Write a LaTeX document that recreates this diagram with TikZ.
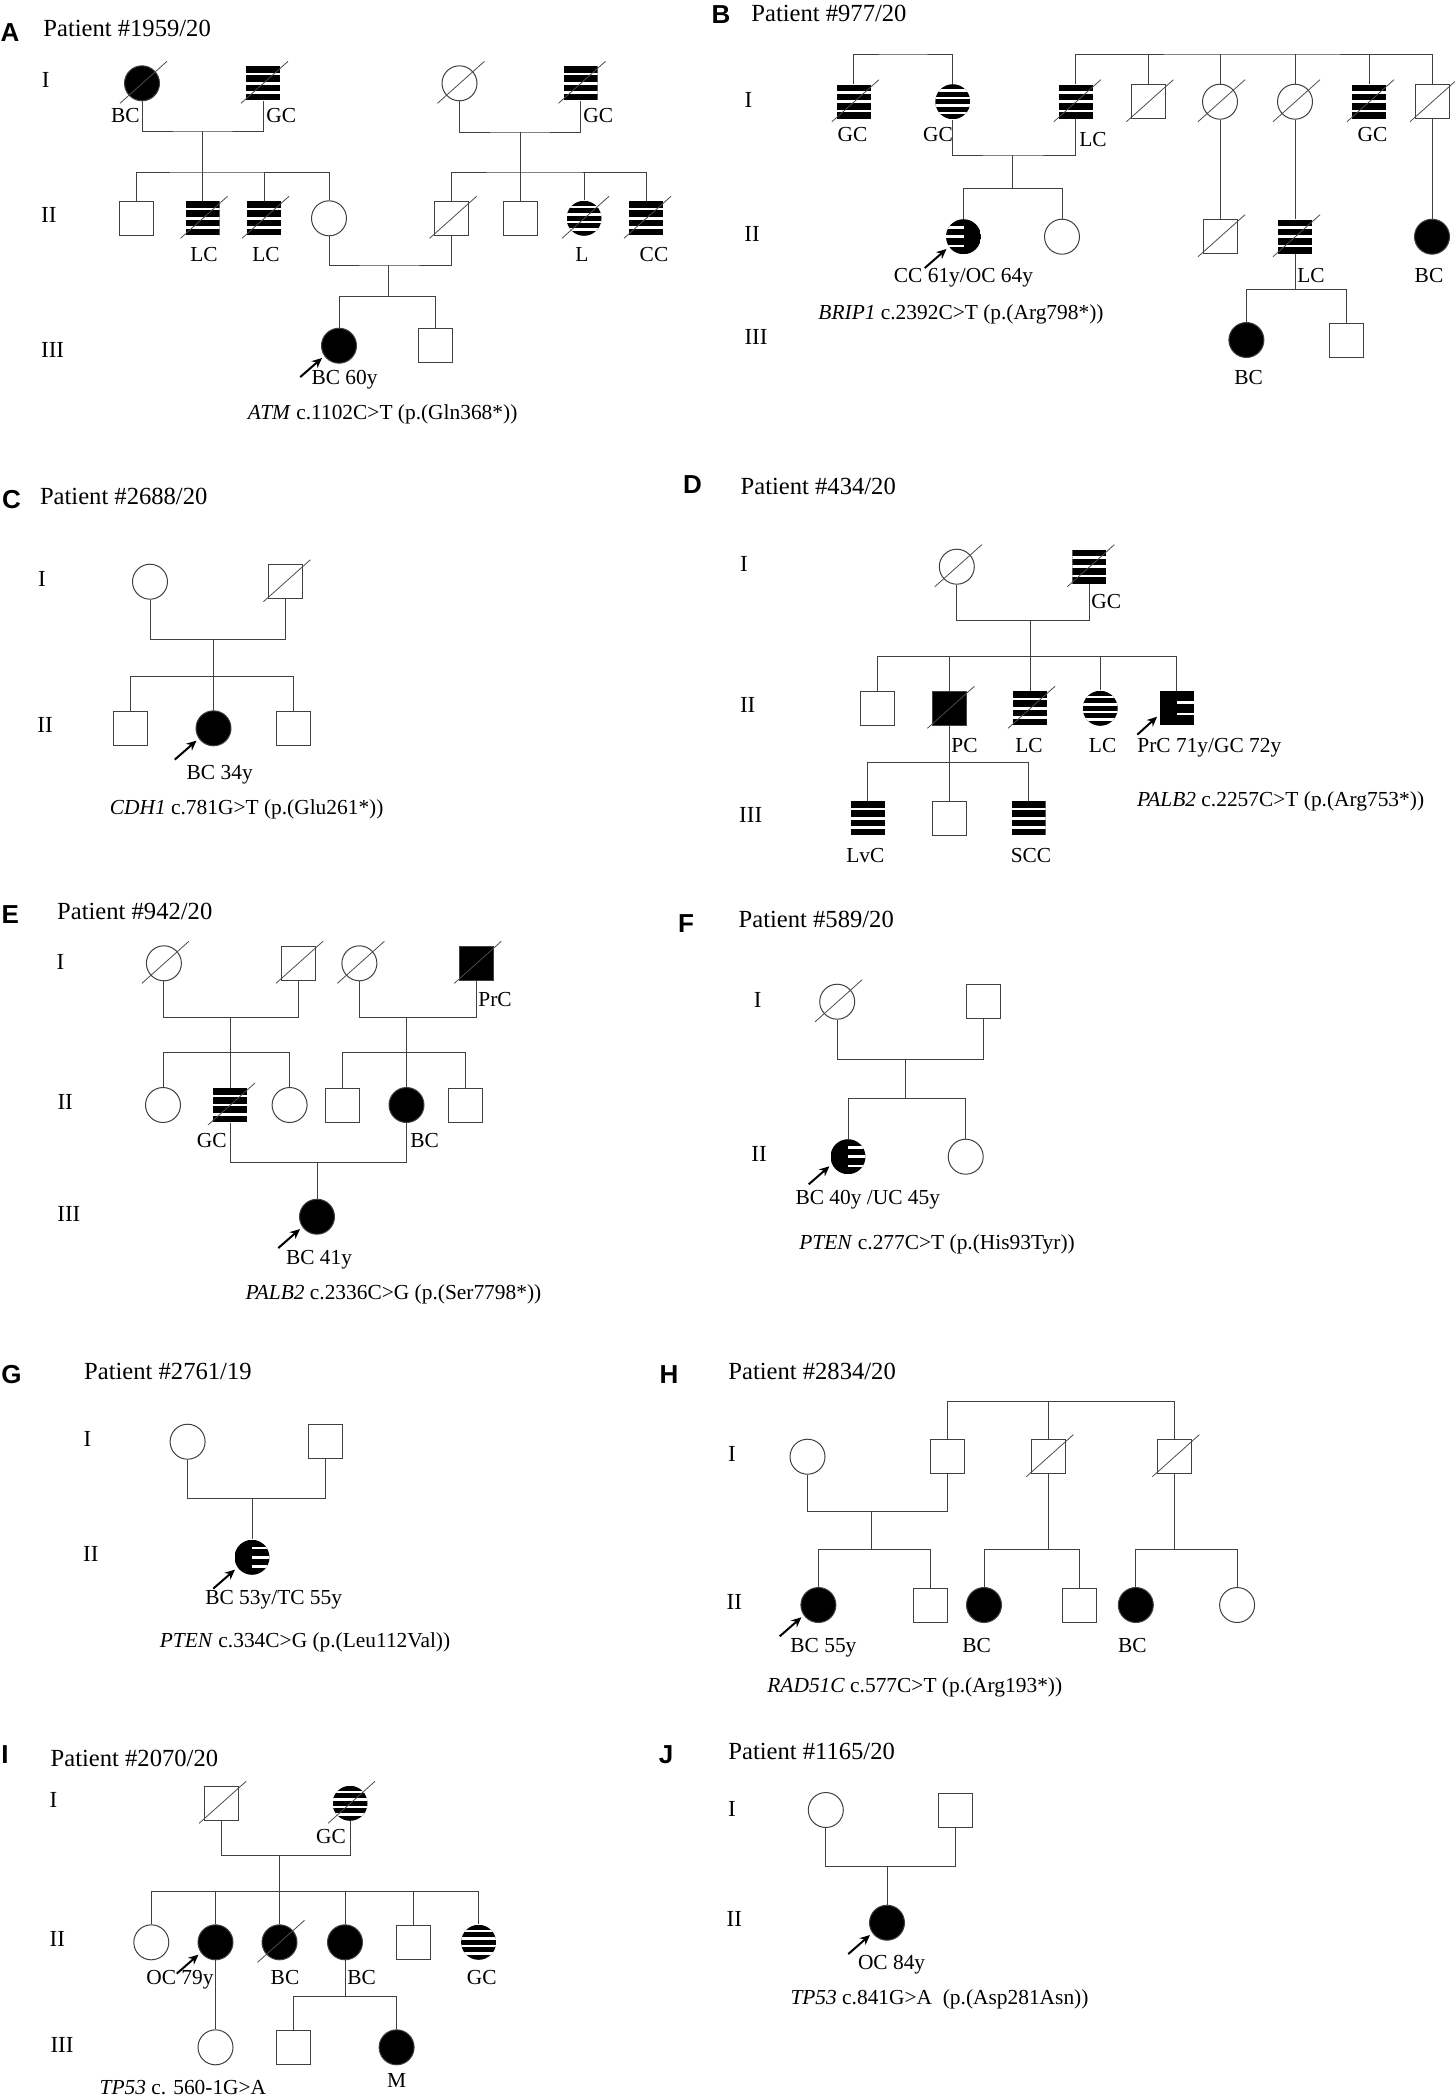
\documentclass[tikz,border=0pt]{standalone}
\usepackage{fontspec}
\setmainfont{Liberation Serif}
\setsansfont{Liberation Sans}
\usepackage{tikz}
\usetikzlibrary{shapes,arrows.meta,calc}

\begin{document}
\begin{tikzpicture}[
	x=0.5pt, y=-0.5pt,
	male/.style={
		rectangle,
		draw=black!75,
		line width=0.5pt,
		minimum size=17pt,
		inner sep=0pt},
	female/.style={
		circle,
		draw=black!75,
		line width=0.5pt,
		minimum size=17.5pt,
		inner sep=0pt},
	aff/.style={fill=black},
	bars/.style={
		draw=none,
		path picture={
			\fill[black] (path picture bounding box.south west) rectangle (path picture bounding box.north east);
			\foreach \o in {#1}
				\fill[white] ([yshift={(\o-0.65)*1pt}]path picture bounding box.west) rectangle ([yshift={(\o+0.65)*1pt}]path picture bounding box.east);}},
	barsR/.style={
		draw=none,
		path picture={
			\fill[black] (path picture bounding box.south west) rectangle (path picture bounding box.north east);
			\foreach \o in {#1}
				\fill[white] ([yshift={(\o-0.65)*1pt}]path picture bounding box.center) rectangle ([yshift={(\o+0.65)*1pt}]path picture bounding box.east);}},
	barsL/.style={
		draw=none,
		path picture={
			\fill[black] (path picture bounding box.south west) rectangle (path picture bounding box.north east);
			\foreach \o in {#1}
				\fill[white] ([yshift={(\o-0.65)*1pt}]path picture bounding box.west) rectangle ([yshift={(\o+0.65)*1pt}]path picture bounding box.center);}},
	sqbars/.style={bars={4.6,0,-4.6}},
	cibars/.style={bars={5.6,1.9,-1.9,-5.6}},
	deadline/.style={draw=black!70, line width=0.4pt},
	dead/.style={
		append after command={
			([shift={(-11pt,-10pt)}]\tikzlastnode.center) edge[deadline] ([shift={(12.5pt,11pt)}]\tikzlastnode.center)}},
	line/.style={
		draw=black!75,
		line width=0.5pt},
	pointer/.style={
		draw=black,
		line width=1pt,
		-{Stealth[length=5pt,width=4.5pt]},
		shorten >=1.5pt},
	lbl/.style={
		font=\fontsize{10.7}{12}\selectfont,
		inner sep=0pt,
		anchor=mid},
	title/.style={
		font=\fontsize{12.3}{14}\selectfont,
		inner sep=0pt,
		anchor=mid west},
	gen/.style={
		font=\fontsize{11.5}{13}\selectfont,
		inner sep=0pt,
		anchor=mid},
	panel/.style={
		font=\sffamily\bfseries\fontsize{13}{15}\selectfont,
		inner sep=0pt}]

	\useasboundingbox (0,0) rectangle (1455,2100);

	% Panel A
	\node [panel] (pA) at (10,33) {A};
	\node [title] (tA) at (43,32) {Patient \#1959/20};
	\node [gen] (gA1) at (45.6,83.3) {I};
	\node [gen] (gA2) at (48.9,218.3) {II};
	\node [gen] (gA3) at (52.6,353.3) {III};
	\node [female, aff, dead] (a1) at (142,83.3) {};
	\node [male, sqbars, dead] (a2) at (263,83.3) {};
	\node [female, dead] (a3) at (459.5,83.3) {};
	\node [male, sqbars, dead] (a4) at (580.5,83.3) {};
	\node [male] (a5) at (136.4,218.3) {};
	\node [male, sqbars, dead] (a6) at (202.5,218.3) {};
	\node [male, sqbars, dead] (a7) at (264,218.3) {};
	\node [female] (a8) at (329,218.3) {};
	\node [male, dead] (a9) at (451.6,218.3) {};
	\node [male] (a10) at (520,218.3) {};
	\node [female, cibars, dead] (a11) at (584,218.3) {};
	\node [male, sqbars, dead] (a12) at (646,218.3) {};
	\node [female, aff] (a13) at (339,345.7) {};
	\node [male] (a14) at (435.3,345.7) {};
	\coordinate (am1) at (202.5,131);
	\coordinate (as1) at (202.5,172);
	\coordinate (am2) at (520,132);
	\coordinate (as2) at (520,172);
	\coordinate (am3) at (388,265);
	\coordinate (as3) at (388,296.7);
	\coordinate (a13p) at ([shift={(-12pt,-10.5pt)}]a13.215);
	\path [line] (a1.south) |- (am1) -| (a2.south);
	\path [line] (am1) -- (as1);
	\path [line] (a5.north) |- (as1) -| (a8.north);
	\path [line] (a6.north) -- (a6.north |- as1);
	\path [line] (a7.north) -- (a7.north |- as1);
	\path [line] (a3.south) |- (am2) -| (a4.south);
	\path [line] (am2) -- (as2);
	\path [line] (a9.north) |- (as2) -| (a12.north);
	\path [line] (a10.north) -- (a10.north |- as2);
	\path [line] (a11.north) -- (a11.north |- as2);
	\path [line] (a8.south) |- (am3) -| (a9.south);
	\path [line] (am3) -- (as3);
	\path [line] (a13.north) |- (as3) -| (a14.north);
	\path [pointer] (a13p) -- (a13.215);
	\node [lbl, anchor=mid east] (a1l) at (140,118.3) {BC};
	\node [lbl, anchor=mid west] (a2l) at (266,118.3) {GC};
	\node [lbl, anchor=mid west] (a4l) at (583,118.3) {GC};
	\node [lbl] (a6l) at (204,256.7) {LC};
	\node [lbl] (a7l) at (266,256.7) {LC};
	\node [lbl] (a11l) at (582,256.7) {L};
	\node [lbl] (a12l) at (654,256.7) {CC};
	\node [lbl] (a13l) at (344.5,380) {BC 60y};
	\node [lbl] (mA) at (382.7,415) {\textit{ATM} c.1102C>T (p.(Gln368*))};

	% Panel B
	\node [panel] (pB) at (721,15) {B};
	\node [title] (tB) at (751,16.7) {Patient \#977/20};
	\node [gen] (gB1) at (748.5,103.3) {I};
	\node [gen] (gB2) at (752,236.7) {II};
	\node [gen] (gB3) at (756,340) {III};
	\node [male, sqbars, dead] (b1) at (853.9,101.7) {};
	\node [female, cibars] (b2) at (952.8,101.7) {};
	\node [male, sqbars, dead] (b3) at (1075.8,101.7) {};
	\node [male, dead] (b4) at (1148.4,101.7) {};
	\node [female, dead] (b5) at (1220,101.7) {};
	\node [female, dead] (b6) at (1295,101.7) {};
	\node [male, sqbars, dead] (b7) at (1369,101.7) {};
	\node [male, dead] (b8) at (1432,101.7) {};
	\node [female, barsL={4.6,0,-4.6}] (b9) at (963.5,236.7) {};
	\node [female] (b10) at (1062,236.7) {};
	\node [male, dead] (b11) at (1220,236.7) {};
	\node [male, sqbars, dead] (b12) at (1295,236.7) {};
	\node [female, aff] (b13) at (1432,236.7) {};
	\node [female, aff] (b14) at (1246.4,340) {};
	\node [male] (b15) at (1346,340) {};
	\coordinate (bt1) at (903,54);
	\coordinate (bt2) at (1250,54);
	\coordinate (bm1) at (1012,155);
	\coordinate (bs1) at (1012,188.3);
	\coordinate (bs2) at (1295,289.3);
	\coordinate (b9p) at ([shift={(-12pt,-10.5pt)}]b9.215);
	\path [line] (b1.north) |- (bt1) -| (b2.north);
	\path [line] (b3.north) |- (bt2) -| (b8.north);
	\path [line] (b4.north) -- (b4.north |- bt2);
	\path [line] (b5.north) -- (b5.north |- bt2);
	\path [line] (b6.north) -- (b6.north |- bt2);
	\path [line] (b7.north) -- (b7.north |- bt2);
	\path [line] (b2.south) |- (bm1) -| (b3.south);
	\path [line] (bm1) -- (bs1);
	\path [line] (b9.north) |- (bs1) -| (b10.north);
	\path [line] (b5.south) -- (b11.north);
	\path [line] (b6.south) -- (b12.north);
	\path [line] (b8.south) -- (b13.north);
	\path [line] (b12.south) -- (bs2);
	\path [line] (b14.north) |- (bs2) -| (b15.north);
	\path [pointer] (b9p) -- (b9.215);
	\node [lbl] (b1l) at (852.5,136.7) {GC};
	\node [lbl] (b2l) at (938,136.7) {GC};
	\node [lbl, anchor=mid west] (b3l) at (1079,141.7) {LC};
	\node [lbl] (b7l) at (1372.6,136.7) {GC};
	\node [lbl] (b9l) at (963.5,278.3) {CC 61y/OC 64y};
	\node [lbl, anchor=mid west] (b12l) at (1297,278.3) {LC};
	\node [lbl] (b13l) at (1429,278.3) {BC};
	\node [lbl] (b14l) at (1248.7,380) {BC};
	\node [lbl] (mB) at (961,315) {\textit{BRIP1} c.2392C>T (p.(Arg798*))};

	% Panel C
	\node [panel] (pC) at (11.6,500) {C};
	\node [title] (tC) at (39.6,500) {Patient \#2688/20};
	\node [gen] (gC1) at (42,581.7) {I};
	\node [gen] (gC2) at (45,728.3) {II};
	\node [female] (c1) at (150,581.7) {};
	\node [male, dead] (c2) at (285.4,581.7) {};
	\node [male] (c3) at (130.4,728.3) {};
	\node [female, aff] (c4) at (213.5,728.3) {};
	\node [male] (c5) at (293.3,728.3) {};
	\coordinate (cm1) at (213.5,639);
	\coordinate (cs1) at (213.5,676);
	\coordinate (c4p) at ([shift={(-12pt,-10.5pt)}]c4.215);
	\path [line] (c1.south) |- (cm1) -| (c2.south);
	\path [line] (cm1) -- (cs1);
	\path [line] (c3.north) |- (cs1) -| (c5.north);
	\path [line] (c4.north) -- (cs1);
	\path [pointer] (c4p) -- (c4.215);
	\node [lbl] (c4l) at (219.7,775) {BC 34y};
	\node [lbl] (mC) at (246.7,810) {\textit{CDH1} c.781G>T (p.(Glu261*))};

	% Panel D
	\node [panel] (pD) at (692.4,485) {D};
	\node [title] (tD) at (740.3,490) {Patient \#434/20};
	\node [gen] (gD1) at (744,566.7) {I};
	\node [gen] (gD2) at (747.7,708.3) {II};
	\node [gen] (gD3) at (750.7,818.3) {III};
	\node [female, dead] (d1) at (956.8,566.7) {};
	\node [male, sqbars, dead] (d2) at (1089.3,566.7) {};
	\node [male] (d3) at (877.7,708.3) {};
	\node [male, aff, dead] (d4) at (949.4,708.3) {};
	\node [male, sqbars, dead] (d5) at (1030,708.3) {};
	\node [female, cibars] (d6) at (1100.2,708.3) {};
	\node [male, barsR={2.9,-2.9}] (d7) at (1176.8,708.3) {};
	\node [male, sqbars] (d8) at (867.8,818.3) {};
	\node [male] (d9) at (949.4,818.3) {};
	\node [male, sqbars] (d10) at (1028.5,818.3) {};
	\coordinate (dm1) at (1030,620);
	\coordinate (ds1) at (1030,656.7);
	\coordinate (ds2) at (949.4,762.7);
	\coordinate (d7p) at ([shift={(-11pt,-10pt)}]d7.200);
	\path [line] (d1.south) |- (dm1) -| (d2.south);
	\path [line] (dm1) -- (ds1);
	\path [line] (d3.north) |- (ds1) -| (d7.north);
	\path [line] (d4.north) -- (d4.north |- ds1);
	\path [line] (d5.north) -- (ds1);
	\path [line] (d6.north) -- (d6.north |- ds1);
	\path [line] (d4.south) -- (d9.north);
	\path [line] (d8.north) |- (ds2) -| (d10.north);
	\path [pointer] (d7p) -- (d7.200);
	\node [lbl, anchor=mid west] (d2l) at (1091,604) {GC};
	\node [lbl, anchor=mid west] (d4l) at (951,748.3) {PC};
	\node [lbl] (d5l) at (1029,748.3) {LC};
	\node [lbl] (d6l) at (1102.6,748.3) {LC};
	\node [lbl, anchor=mid west] (d7l) at (1137,748.3) {PrC 71y/GC 72y};
	\node [lbl] (d8l) at (865.4,858.3) {LvC};
	\node [lbl] (d10l) at (1031,858.3) {SCC};
	\node [lbl] (mD) at (1280.6,801.7) {\textit{PALB2} c.2257C>T (p.(Arg753*))};

	% Panel E
	\node [panel] (pE) at (10.2,915) {E};
	\node [title] (tE) at (56.8,915) {Patient \#942/20};
	\node [gen] (gE1) at (60.5,965) {I};
	\node [gen] (gE2) at (65.2,1105) {II};
	\node [gen] (gE3) at (68.9,1216.7) {III};
	\node [female, dead] (e1) at (163.9,963.3) {};
	\node [male, dead] (e2) at (298,963.3) {};
	\node [female, dead] (e3) at (359.4,963.3) {};
	\node [male, aff, dead] (e4) at (476.3,963.3) {};
	\node [female] (e5) at (163,1105) {};
	\node [male, sqbars, dead] (e6) at (230,1105) {};
	\node [female] (e7) at (289.6,1105) {};
	\node [male] (e8) at (342.2,1105) {};
	\node [female, aff] (e9) at (406.5,1105) {};
	\node [male] (e10) at (465.5,1105) {};
	\node [female, aff] (e11) at (317,1216.7) {};
	\coordinate (em1) at (230,1017.3);
	\coordinate (es1) at (230,1052.7);
	\coordinate (em2) at (406.5,1017.3);
	\coordinate (es2) at (406.5,1052.7);
	\coordinate (em3) at (317,1162.7);
	\coordinate (e11p) at ([shift={(-12pt,-10.5pt)}]e11.215);
	\path [line] (e1.south) |- (em1) -| (e2.south);
	\path [line] (em1) -- (es1);
	\path [line] (e5.north) |- (es1) -| (e7.north);
	\path [line] (e6.north) -- (es1);
	\path [line] (e3.south) |- (em2) -| (e4.south);
	\path [line] (em2) -- (es2);
	\path [line] (e8.north) |- (es2) -| (e10.north);
	\path [line] (e9.north) -- (es2);
	\path [line] (e6.south) |- (em3) -| (e9.south);
	\path [line] (em3) -- (e11.north);
	\path [pointer] (e11p) -- (e11.215);
	\node [lbl, anchor=mid west] (e4l) at (478,1001.7) {PrC};
	\node [lbl, anchor=mid east] (e6l) at (227,1143.3) {GC};
	\node [lbl, anchor=mid west] (e9l) at (410,1143.3) {BC};
	\node [lbl] (e11l) at (319,1260) {BC 41y};
	\node [lbl] (mE) at (393.4,1295) {\textit{PALB2} c.2336C>G (p.(Ser7798*))};

	% Panel F
	\node [panel] (pF) at (686,923.3) {F};
	\node [title] (tF) at (738.3,923.3) {Patient \#589/20};
	\node [gen] (gF1) at (757.6,1002.7) {I};
	\node [gen] (gF2) at (759.1,1156.7) {II};
	\node [female, dead] (f1) at (837.2,1001.7) {};
	\node [male] (f2) at (983,1001.7) {};
	\node [female, barsR={4.6,0,-4.6}] (f3) at (848,1156.7) {};
	\node [female] (f4) at (965.7,1156.7) {};
	\coordinate (fm1) at (905,1059.3);
	\coordinate (fs1) at (905,1098.3);
	\coordinate (f3p) at ([shift={(-11.5pt,-10pt)}]f3.205);
	\path [line] (f1.south) |- (fm1) -| (f2.south);
	\path [line] (fm1) -- (fs1);
	\path [line] (f3.north) |- (fs1) -| (f4.north);
	\path [pointer] (f3p) -- (f3.205);
	\node [lbl] (f3l) at (867.8,1200) {BC 40y /UC 45y};
	\node [lbl] (mF) at (937,1245) {\textit{PTEN} c.277C>T (p.(His93Tyr))};

	% Panel G
	\node [panel] (pG) at (11.6,1375) {G};
	\node [title] (tG) at (83.8,1375) {Patient \#2761/19};
	\node [gen] (gG1) at (87.5,1441.7) {I};
	\node [gen] (gG2) at (90.8,1557.3) {II};
	\node [female] (g1) at (187.6,1441.7) {};
	\node [male] (g2) at (325,1441.7) {};
	\node [female, barsR={4.6,0,-4.6}] (g3) at (252,1557.3) {};
	\coordinate (gm1) at (252,1498.3);
	\coordinate (g3p) at ([shift={(-12pt,-10.5pt)}]g3.215);
	\path [line] (g1.south) |- (gm1) -| (g2.south);
	\path [line] (gm1) -- (g3.north);
	\path [pointer] (g3p) -- (g3.215);
	\node [lbl] (g3l) at (273.7,1600) {BC 53y/TC 55y};
	\node [lbl] (mG) at (305,1643.3) {\textit{PTEN} c.334C>G (p.(Leu112Val))};

	% Panel H
	\node [panel] (pH) at (669,1375) {H};
	\node [title] (tH) at (728,1375) {Patient \#2834/20};
	\node [gen] (gH1) at (732,1456.7) {I};
	\node [gen] (gH2) at (734.4,1605) {II};
	\node [female] (h1) at (807.5,1456.7) {};
	\node [male] (h2) at (947,1456.7) {};
	\node [male, dead] (h3) at (1048.3,1456.7) {};
	\node [male, dead] (h4) at (1174.3,1456.7) {};
	\node [female, aff] (h5) at (818.4,1605) {};
	\node [male] (h6) at (930.6,1605) {};
	\node [female, aff] (h7) at (984,1605) {};
	\node [male] (h8) at (1079.4,1605) {};
	\node [female, aff] (h9) at (1135.8,1605) {};
	\node [female] (h10) at (1237.1,1605) {};
	\coordinate (ht1) at (1048.3,1401.7);
	\coordinate (hm1) at (871.8,1511.7);
	\coordinate (hs1) at (871.8,1549);
	\coordinate (hs2) at (1048.3,1549);
	\coordinate (hs3) at (1174.3,1549);
	\coordinate (h5p) at ([shift={(-12pt,-10.5pt)}]h5.215);
	\path [line] (h2.north) |- (ht1) -| (h4.north);
	\path [line] (h3.north) -- (ht1);
	\path [line] (h1.south) |- (hm1) -| (h2.south);
	\path [line] (hm1) -- (hs1);
	\path [line] (h5.north) |- (hs1) -| (h6.north);
	\path [line] (h3.south) -- (hs2);
	\path [line] (h7.north) |- (hs2) -| (h8.north);
	\path [line] (h4.south) -- (hs3);
	\path [line] (h9.north) |- (hs3) -| (h10.north);
	\path [pointer] (h5p) -- (h5.215);
	\node [lbl] (h5l) at (823.4,1648.3) {BC 55y};
	\node [lbl] (h7l) at (976.6,1648.3) {BC};
	\node [lbl] (h9l) at (1132.3,1648.3) {BC};
	\node [lbl] (mH) at (914.8,1688.3) {\textit{RAD51C} c.577C>T (p.(Arg193*))};

	% Panel I
	\node [panel] (pI) at (5,1755) {I};
	\node [title] (tI) at (50.3,1761.7) {Patient \#2070/20};
	\node [gen] (gI1) at (53.5,1803.3) {I};
	\node [gen] (gI2) at (57.3,1941.7) {II};
	\node [gen] (gI3) at (62,2048.3) {III};
	\node [male, dead] (i1) at (221.1,1803.3) {};
	\node [female, cibars, dead] (i2) at (350,1803.3) {};
	\node [female] (i3) at (151.3,1942.3) {};
	\node [female, aff] (i4) at (215.5,1942.3) {};
	\node [female, aff, dead] (i5) at (279.5,1942.3) {};
	\node [female, aff] (i6) at (345,1942.3) {};
	\node [male] (i7) at (413,1942.3) {};
	\node [female, cibars] (i8) at (478.6,1942.3) {};
	\node [female] (i9) at (215.5,2047.3) {};
	\node [male] (i10) at (293.3,2047.3) {};
	\node [female, aff] (i11) at (396.6,2047.3) {};
	\coordinate (im1) at (279.5,1855);
	\coordinate (is1) at (279.5,1891);
	\coordinate (is2) at (345,1996.7);
	\coordinate (i4p) at ([shift={(-12pt,-10.5pt)}]i4.215);
	\path [line] (i1.south) |- (im1) -| (i2.south);
	\path [line] (im1) -- (is1);
	\path [line] (i3.north) |- (is1) -| (i8.north);
	\path [line] (i4.north) -- (i4.north |- is1);
	\path [line] (i5.north) -- (is1);
	\path [line] (i6.north) -- (i6.north |- is1);
	\path [line] (i7.north) -- (i7.north |- is1);
	\path [line] (i4.south) -- (i9.north);
	\path [line] (i6.south) -- (is2);
	\path [line] (i10.north) |- (is2) -| (i11.north);
	\path [pointer] (i4p) -- (i4.215);
	\node [lbl] (i2l) at (331,1839.3) {GC};
	\node [lbl, anchor=mid east] (i4l) at (214,1980) {OC 79y};
	\node [lbl] (i5l) at (285,1980) {BC};
	\node [lbl, anchor=mid west] (i6l) at (347,1980) {BC};
	\node [lbl] (i8l) at (481.8,1980) {GC};
	\node [lbl] (i11l) at (396.6,2083.3) {M};
	\node [lbl, anchor=mid west] (mI) at (99.2,2090) {\textit{TP53} c. 560-1G>A};

	% Panel J
	\node [panel] (pJ) at (666,1755) {J};
	\node [title] (tJ) at (728,1755) {Patient \#1165/20};
	\node [gen] (gJ1) at (732,1811.7) {I};
	\node [gen] (gJ2) at (734.4,1921.7) {II};
	\node [female] (j1) at (825.8,1810) {};
	\node [male] (j2) at (955.8,1810) {};
	\node [female, aff] (j3) at (887,1922.7) {};
	\coordinate (jm1) at (887,1866.7);
	\coordinate (j3p) at ([shift={(-12pt,-10.5pt)}]j3.215);
	\path [line] (j1.south) |- (jm1) -| (j2.south);
	\path [line] (jm1) -- (j3.north);
	\path [pointer] (j3p) -- (j3.215);
	\node [lbl] (j3l) at (891.6,1965) {OC 84y};
	\node [lbl] (mJ) at (939.5,2000) {\textit{TP53} c.841G>A\ \ (p.(Asp281Asn))};
\end{tikzpicture}
\end{document}
